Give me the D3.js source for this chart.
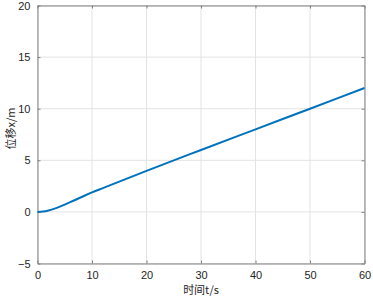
<!DOCTYPE html>
<html>
<head>
<meta charset="utf-8">
<script src="https://cdn.jsdelivr.net/npm/d3@7"></script>
<style>
  body { margin: 0; background: #fff; }
  text { font-family: "Liberation Sans", Arial, sans-serif; fill: #262626; }
</style>
</head>
<body>
<div id="chart"></div>
<script>
// data
var timeValues = [0, 1, 2, 3, 4, 5, 6, 7, 8, 9, 10, 12, 15, 20, 30, 40, 50, 60];
var dispValues = [0, 0.03, 0.13, 0.29, 0.49, 0.71, 0.94, 1.18, 1.42, 1.66, 1.89, 2.3, 2.94, 3.98, 6.0, 8.0, 10.0, 12.0];
var xTicks = [0, 10, 20, 30, 40, 50, 60];
var yTicks = [-5, 0, 5, 10, 15, 20];
var xLabel = "时间t/s";
var yLabel = "位移x/m";

var W = 373, H = 299;
var margin = {top: 5, right: 9, bottom: 36, left: 37};
var width = W - margin.left - margin.right,
    height = H - margin.top - margin.bottom;

var svg = d3.select("#chart").append("svg")
    .attr("width", W)
    .attr("height", H);

var g = svg.append("g")
    .attr("transform", "translate(" + (margin.left + 0.5) + "," + (margin.top + 0.5) + ")");

var x = d3.scaleLinear().domain([0, 60]).range([0, width]);
var y = d3.scaleLinear().domain([-5, 20]).range([height, 0]);

// grid
g.append("g").selectAll("line")
    .data(xTicks)
    .enter().append("line")
    .attr("x1", function (d) { return x(d); })
    .attr("x2", function (d) { return x(d); })
    .attr("y1", 0).attr("y2", height)
    .attr("stroke", "#e3e3e3");
g.append("g").selectAll("line")
    .data(yTicks)
    .enter().append("line")
    .attr("y1", function (d) { return y(d); })
    .attr("y2", function (d) { return y(d); })
    .attr("x1", 0).attr("x2", width)
    .attr("stroke", "#e3e3e3");

// axes, ticks pointing inward on all four sides
function styleAxis(sel) {
  sel.select(".domain").attr("stroke", "#808080");
  sel.selectAll(".tick line").attr("stroke", "#808080");
  sel.selectAll(".tick text").attr("fill", "#262626")
     .style("font-family", "'Liberation Sans', Arial, sans-serif")
     .style("font-size", "11px");
}

g.append("g")
    .attr("transform", "translate(0," + height + ")")
    .call(d3.axisBottom(x).tickValues(xTicks).tickSizeInner(-3).tickSizeOuter(0).tickPadding(8))
    .call(styleAxis);
g.append("g")
    .call(d3.axisTop(x).tickValues(xTicks).tickSizeInner(-3).tickSizeOuter(0).tickFormat(""))
    .call(styleAxis);
g.append("g")
    .call(d3.axisLeft(y).tickValues(yTicks).tickSizeInner(-3).tickSizeOuter(0).tickPadding(7))
    .call(styleAxis);
g.append("g")
    .attr("transform", "translate(" + width + ",0)")
    .call(d3.axisRight(y).tickValues(yTicks).tickSizeInner(-3).tickSizeOuter(0).tickFormat(""))
    .call(styleAxis);

// line
var pts = timeValues.map(function (t, i) { return [t, dispValues[i]]; });
g.append("path")
    .datum(pts)
    .attr("fill", "none")
    .attr("stroke", "#0072BD")
    .attr("stroke-width", 2)
    .attr("d", d3.line()
        .x(function (d) { return x(d[0]); })
        .y(function (d) { return y(d[1]); })
        .curve(d3.curveMonotoneX));

// axis labels
g.append("text")
    .attr("x", width / 2)
    .attr("y", height + 30)
    .attr("text-anchor", "middle")
    .style("font-family", "'Noto Sans CJK SC', 'Liberation Sans', sans-serif")
    .style("font-size", "11px")
    .text(xLabel);
g.append("text")
    .attr("transform", "translate(" + (-23) + "," + (height / 2 - 6) + ") rotate(-90)")
    .attr("text-anchor", "middle")
    .style("font-family", "'Noto Sans CJK SC', 'Liberation Sans', sans-serif")
    .style("font-size", "11px")
    .text(yLabel);
</script>
</body>
</html>
